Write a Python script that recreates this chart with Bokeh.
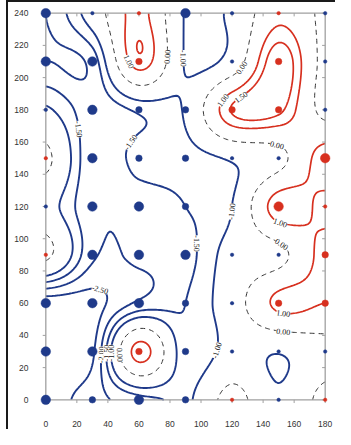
import numpy as np
import contourpy
from bokeh.plotting import figure
from bokeh.models import ColumnDataSource, LabelSet, Range1d, FixedTicker
from bokeh.embed import file_html
from bokeh.resources import INLINE

# ---------------- data ----------------
x_nodes = [0, 30, 60, 90, 120, 150, 180]
y_nodes = [0, 30, 60, 90, 120, 150, 180, 210, 240]

# interpolated field values at the grid nodes (one list per row, x = 0..180)
z_y0   = [-2.8, -2.2, -1.7, -1.2,  0.3, -0.9,  0.3]
z_y30  = [-2.7, -2.6,  1.3, -1.4, -0.7, -0.95, -0.4]
z_y60  = [-2.8, -2.7, -1.9, -1.5, -0.5,  1.2,  1.0]
z_y90  = [ 0.2, -1.9, -1.9, -1.7, -0.7, -0.3,  1.3]
z_y120 = [-0.7, -1.9, -1.8, -1.5, -1.0,  1.4,  0.8]
z_y150 = [ 0.2, -1.9, -1.3, -1.25, -0.9, -0.3, 1.4]
z_y180 = [-0.9, -1.8, -1.4, -0.9,  1.55, 1.65, -0.3]
z_y210 = [-2.0, -1.8,  1.35, -1.05, -0.65, 1.9, -0.3]
z_y240 = [-2.0, -0.6,  1.25, -1.05, -0.85, 0.75, -0.2]

# sample points: sign = colour (blue negative / red positive), |value| = size class, 0 = none
pt_y0   = [-3, -2, -3, -2,  1, -1,  1]
pt_y30  = [-3, -3,  2, -2, -1, -1, -1]
pt_y60  = [-3, -3, -3, -2, -1,  2,  2]
pt_y90  = [ 1, -3, -3, -3, -1, -1,  2]
pt_y120 = [-1, -3, -3, -2, -1,  3,  1]
pt_y150 = [ 1, -3, -2, -2, -1, -1,  3]
pt_y180 = [-1, -3, -2, -2,  2,  2, -1]
pt_y210 = [-3, -3,  2,  0, -1,  2, -1]
pt_y240 = [-3, -1,  1, -3, -1,  1, -1]

contour_levels = [-2.5, -2.0, -1.5, -1.0, 0.0, 1.0, 1.5]

# contour label anchors (level, approximate x, approximate y)
lab_level = [1.0, 0.0, -1.0, 0.0, 1.0, 1.5, 0.0, -1.5, -1.5, -1.0, 1.0, 0.0, -1.5, -2.5, -2.0, -1.5, -1.0, 0.0, 1.0, 0.0, -1.0]
lab_x     = [54, 77, 90, 124, 116, 126, 150, 22, 51, 118, 152, 154, 93, 39, 30, 40, 44, 48, 152, 152, 109]
lab_y     = [210, 213, 212, 208, 185, 187, 162, 168, 162, 117, 112, 100, 97, 78, 28, 29, 29, 28, 50, 37, 31]

x_ticks = [0, 20, 40, 60, 80, 100, 120, 140, 160, 180]
y_ticks = [0, 20, 40, 60, 80, 100, 120, 140, 160, 180, 200, 220, 240]

# ---------------- interpolation (Catmull-Rom bicubic) ----------------
G = np.array([z_y0, z_y30, z_y60, z_y90, z_y120, z_y150, z_y180, z_y210, z_y240], dtype=float)
xn = np.array(x_nodes, float)
yn = np.array(y_nodes, float)

def cr_matrix(nodes, fine):
    n = len(nodes)
    step = nodes[1] - nodes[0]
    M = np.zeros((len(fine), n))
    for k, v in enumerate(fine):
        u = (v - nodes[0]) / step
        i = int(np.floor(u))
        if i >= n - 1:
            i = n - 2
        t = u - i
        w = [(-t + 2 * t**2 - t**3) / 2, (2 - 5 * t**2 + 3 * t**3) / 2,
             (t + 4 * t**2 - 3 * t**3) / 2, (-t**2 + t**3) / 2]
        for off, wk in zip((-1, 0, 1, 2), w):
            j = min(max(i + off, 0), n - 1)
            M[k, j] += wk
    return M

xf = np.linspace(xn[0], xn[-1], 181)
yf = np.linspace(yn[0], yn[-1], 241)
Z = cr_matrix(yn, yf) @ G @ cr_matrix(xn, xf).T
X, Y = np.meshgrid(xf, yf)
gen = contourpy.contour_generator(X, Y, Z, name="serial", line_type="Separate")

# ---------------- figure ----------------
p = figure(width=335, height=429, output_backend="svg", toolbar_location=None,
           x_range=Range1d(-6, 186), y_range=Range1d(-6, 246))
p.min_border_left = 36
p.min_border_right = 1
p.min_border_top = 3
p.min_border_bottom = 17
p.outline_line_color = None
p.grid.visible = False
p.background_fill_color = "white"
p.border_fill_color = None
p.styles = {
    "background-image": "linear-gradient(#1a1a1a, #1a1a1a), linear-gradient(#1a1a1a, #1a1a1a)",
    "background-size": "2px 100%, 100% 2px",
    "background-position": "6px 0px, 6px 0px",
    "background-repeat": "no-repeat",
    "background-color": "white",
}

for ax in (p.xaxis, p.yaxis):
    ax.axis_line_color = None
    ax.major_tick_line_color = None
    ax.minor_tick_line_color = None
    ax.major_label_text_font = "Liberation Sans"
    ax.major_label_text_font_size = "8.5px"
    ax.major_label_text_color = "#333333"
p.xaxis.ticker = FixedTicker(ticks=x_ticks)
p.yaxis.ticker = FixedTicker(ticks=y_ticks)
p.xaxis.major_label_standoff = 5
p.yaxis.major_label_standoff = 2

BLUE = "#1f3a8a"
RED = "#d7301f"

# contour lines
line_vertices = {}
for lev in contour_levels:
    segs = gen.lines(lev)
    line_vertices[lev] = segs
    xs = [s[:, 0].tolist() for s in segs]
    ys = [s[:, 1].tolist() for s in segs]
    if lev < 0:
        p.multi_line(xs, ys, line_color=BLUE, line_width=1.9)
    elif lev == 0:
        p.multi_line(xs, ys, line_color="#333333", line_width=1.0, line_dash="5 4")
    else:
        p.multi_line(xs, ys, line_color=RED, line_width=1.7)

# gray axis box and ticks
x0, x1 = xn[0], xn[-1]
y0, y1 = yn[0], yn[-1]
p.line([x0, x1, x1, x0, x0], [y0, y0, y1, y1, y0], line_color="#a0a0a0", line_width=1.3)
p.segment(x0=[x0 - 2] * len(y_ticks), y0=y_ticks, x1=[x0] * len(y_ticks), y1=y_ticks,
          line_color="#a0a0a0", line_width=1)
p.segment(x0=x_ticks, y0=[y0 - 2] * len(x_ticks), x1=x_ticks, y1=[y0] * len(x_ticks),
          line_color="#a0a0a0", line_width=1)
p.segment(x0=[x1 - 2] * len(y_ticks), y0=y_ticks, x1=[x1] * len(y_ticks), y1=y_ticks,
          line_color="#a0a0a0", line_width=1)
p.segment(x0=x_ticks, y0=[y1 - 2] * len(x_ticks), x1=x_ticks, y1=[y1] * len(x_ticks),
          line_color="#a0a0a0", line_width=1)

# contour labels placed on the computed lines
sx, sy = 1.552, 1.623
lx, ly, la, lt = [], [], [], []
for lev, axp, ayp in zip(lab_level, lab_x, lab_y):
    best = None
    for s in line_vertices[lev]:
        if len(s) < 3:
            continue
        d = ((s[:, 0] - axp) * sx) ** 2 + ((s[:, 1] - ayp) * sy) ** 2
        k = int(np.argmin(d))
        if best is None or d[k] < best[0]:
            best = (d[k], s, k)
    if best is None or best[0] > 30.0 ** 2:
        continue
    _, s, k = best
    ka, kb = max(k - 2, 0), min(k + 2, len(s) - 1)
    dx = (s[kb, 0] - s[ka, 0]) * sx
    dy = (s[kb, 1] - s[ka, 1]) * sy
    ang = np.arctan2(dy, dx)
    if ang > np.pi / 2:
        ang -= np.pi
    elif ang <= -np.pi / 2:
        ang += np.pi
    lx.append(float(s[k, 0]))
    ly.append(float(s[k, 1]))
    la.append(float(ang))
    lt.append("%.2f" % lev)

lab_src = ColumnDataSource(dict(x=lx, y=ly, angle=la, text=lt))
p.add_layout(LabelSet(x="x", y="y", text="text", angle="angle", source=lab_src,
                      text_font="Liberation Sans", text_font_size="8px",
                      text_color="#111111", text_align="center", text_baseline="middle",
                      background_fill_color="white"))

# sample points
size_of = {1: 3.5, 2: 6.5, 3: 9.5}
px, py, ps, pc = [], [], [], []
for yv, row in zip(y_nodes, [pt_y0, pt_y30, pt_y60, pt_y90, pt_y120, pt_y150, pt_y180, pt_y210, pt_y240]):
    for xv, c in zip(x_nodes, row):
        if c == 0:
            continue
        px.append(xv)
        py.append(yv)
        ps.append(size_of[abs(c)])
        pc.append(BLUE if c < 0 else RED)
p.scatter(x=px, y=py, size=ps, fill_color=pc, line_color=pc, line_width=0.5)

open("out.html", "w").write(file_html(p, INLINE))
